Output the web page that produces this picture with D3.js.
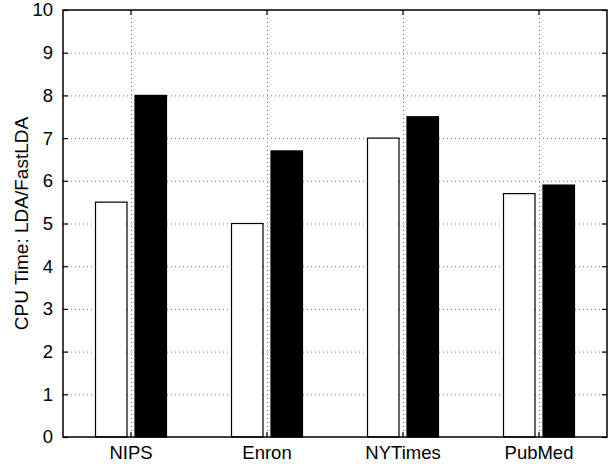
<!DOCTYPE html>
<html>
<head>
<meta charset="utf-8">
<script src="https://cdn.jsdelivr.net/npm/d3@7"></script>
<style>
  html, body { margin: 0; padding: 0; background: #fff; }
  svg { display: block; font-family: "Liberation Sans", Arial, Helvetica, sans-serif; }
</style>
</head>
<body>
<svg id="chart" width="615" height="464"></svg>
<script>
// Datasets and the speed-up ratio for the two runs on each one
const categories = ["NIPS", "Enron", "NYTimes", "PubMed"];
const seriesNames = ["run1", "run2"];
const run1Values = [5.5, 5.0, 7.0, 5.7];
const run2Values = [8.0, 6.7, 7.5, 5.9];
const yTicks = [0, 1, 2, 3, 4, 5, 6, 7, 8, 9, 10];
const yLabel = "CPU Time: LDA/FastLDA";
const seriesFill = ["#ffffff", "#000000"];

const rows = categories.map((c, i) => ({ cat: c, values: [run1Values[i], run2Values[i]] }));

const svg = d3.select("#chart");
const plotL = 63, plotR = 607, plotT = 10, plotB = 437;

const x0 = d3.scaleBand().domain(categories).range([plotL, plotR]).paddingInner(0).paddingOuter(0);
const x1 = d3.scaleBand().domain(seriesNames).range([0, x0.bandwidth()])
  .paddingInner(0.2025).paddingOuter(0.823);
const y = d3.scaleLinear().domain([0, 10]).range([plotB, plotT]);

// dotted grid
const grid = svg.append("g");
grid.selectAll("line.h").data(yTicks.filter(t => t > 0 && t < 10)).join("line")
  .attr("x1", plotL).attr("x2", plotR)
  .attr("y1", d => y(d) + 0.5).attr("y2", d => y(d) + 0.5)
  .attr("stroke", "#777").attr("stroke-width", 1).attr("stroke-dasharray", "1,3");
grid.selectAll("line.v").data(categories).join("line")
  .attr("x1", d => Math.round(x0(d) + x0.bandwidth() / 2) + 0.5)
  .attr("x2", d => Math.round(x0(d) + x0.bandwidth() / 2) + 0.5)
  .attr("y1", plotT).attr("y2", plotB)
  .attr("stroke", "#777").attr("stroke-width", 1).attr("stroke-dasharray", "1,3");

// bars
const groups = svg.append("g").selectAll("g").data(rows).join("g")
  .attr("transform", d => `translate(${x0(d.cat)},0)`);
groups.selectAll("rect").data(d => d.values.map((v, k) => ({ k, v }))).join("rect")
  .attr("x", d => x1(seriesNames[d.k]))
  .attr("width", x1.bandwidth())
  .attr("y", d => y(d.v))
  .attr("height", d => y(0) - y(d.v))
  .attr("fill", d => seriesFill[d.k])
  .attr("stroke", "#000").attr("stroke-width", 1.2);

// axes box
const axisG = svg.append("g");
axisG.append("rect").attr("x", plotL).attr("y", plotT).attr("width", plotR - plotL).attr("height", plotB - plotT)
  .attr("fill", "none").attr("stroke", "#000").attr("stroke-width", 1.5);

const yAxisL = d3.axisLeft(y).tickValues(yTicks).tickSize(-5).tickPadding(10).tickFormat(d3.format("d"));
const yAxisR = d3.axisRight(y).tickValues(yTicks).tickSize(-5).tickFormat("");
const xAxisB = d3.axisBottom(x0).tickSize(-5).tickPadding(9);
const xAxisT = d3.axisTop(x0).tickSize(-5).tickFormat("");

function styleAxis(g) {
  g.select(".domain").remove();
  g.selectAll(".tick line").attr("stroke", "#000").attr("stroke-width", 1.2);
  g.selectAll(".tick text").attr("fill", "#000").attr("font-size", "18.5px")
    .attr("font-family", "\"Liberation Sans\", Arial, Helvetica, sans-serif");
}
axisG.append("g").attr("transform", `translate(${plotL},0)`).call(yAxisL).call(styleAxis);
axisG.append("g").attr("transform", `translate(${plotR},0)`).call(yAxisR).call(styleAxis);
axisG.append("g").attr("transform", `translate(0,${plotB})`).call(xAxisB).call(styleAxis);
axisG.append("g").attr("transform", `translate(0,${plotT})`).call(xAxisT).call(styleAxis);

svg.append("text")
  .attr("transform", `translate(21,${(plotT + plotB) / 2}) rotate(-90)`)
  .attr("text-anchor", "middle").attr("dominant-baseline", "central")
  .attr("font-size", "19px").attr("fill", "#000")
  .text(yLabel);
</script>
</body>
</html>
